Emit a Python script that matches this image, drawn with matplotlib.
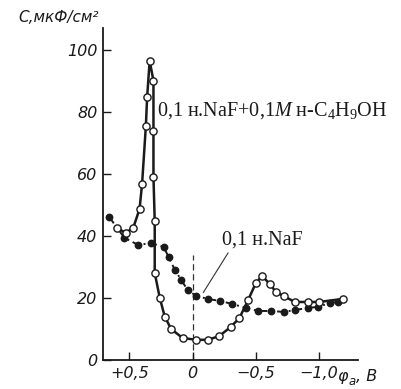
import matplotlib
matplotlib.use("Agg")
import matplotlib.pyplot as plt

plt.rcParams["mathtext.fontset"] = "custom"
plt.rcParams["mathtext.rm"] = "Liberation Serif"
plt.rcParams["mathtext.it"] = "Liberation Serif:italic"

# Potential (V) and capacitance (µF/cm²) for 0.1 N NaF + 0.1 M n-C4H9OH
phi_bu = [0.60, 0.53, 0.47, 0.42, 0.40, 0.37, 0.36, 0.34, 0.31, 0.31, 0.31, 0.30,
          0.30, 0.26, 0.22, 0.17, 0.08, -0.03, -0.12, -0.21, -0.30, -0.37, -0.44,
          -0.50, -0.55, -0.61, -0.66, -0.72, -0.81, -0.91, -1.00, -1.19]
cap_bu = [42.6, 41.0, 42.6, 48.7, 56.8, 75.5, 84.8, 96.5, 90.0, 73.9, 59.0, 44.8,
          28.1, 20.0, 13.9, 10.0, 7.1, 6.5, 6.5, 7.7, 10.6, 13.5, 19.4,
          24.8, 27.1, 24.5, 21.9, 20.6, 18.7, 18.7, 18.7, 19.7]

# Potential (V) and capacitance (µF/cm²) for 0.1 N NaF
phi_naf = [0.66, 0.54, 0.43, 0.33, 0.23, 0.19, 0.14, 0.09, 0.04, -0.03, -0.12,
           -0.22, -0.31, -0.42, -0.52, -0.62, -0.72, -0.81, -0.91, -0.99, -1.09, -1.15]
cap_naf = [46.1, 39.4, 37.1, 37.7, 36.5, 33.2, 29.0, 25.8, 22.6, 20.6, 19.7,
           19.0, 18.1, 16.8, 15.8, 15.8, 15.5, 16.1, 16.8, 17.1, 18.4, 18.7]

x_ticks = [0.5, 0.0, -0.5, -1.0]
x_tick_labels = ["+0,5", "0", "\u22120,5", "\u22121,0"]
y_ticks = [0, 20, 40, 60, 80, 100]
y_tick_labels = ["0", "20", "40", "60", "80", "100"]

label_bu = "0,1 н.NaF+0,1$\\mathit{M}$ н-C$_4$H$_9$OH"
label_naf = "0,1 н.NaF"

tick_font = dict(family=["Liberation Sans Narrow", "DejaVu Sans"], style="italic", size=11.5)
title_font = dict(family=["Liberation Sans Narrow", "DejaVu Sans"], style="italic", size=11)
serif_font = dict(family=["Liberation Serif", "DejaVu Serif"], size=14.5)

fig = plt.figure(figsize=(4.02, 3.89), dpi=100)
ax = fig.add_axes([0.256, 0.0746, 0.635, 0.853])

ax.plot(phi_naf, cap_naf, color="#1a1a1a", lw=1.4, ls=(0, (4, 2, 1, 2)),
        marker="o", ms=4.6, mfc="#1a1a1a", mec="#1a1a1a", zorder=2)
ax.plot(phi_bu, cap_bu, color="#1a1a1a", lw=1.8, ls="-",
        marker="o", ms=5.2, mfc="white", mec="#1a1a1a", mew=1.0, zorder=3)

# vertical marker at zero potential
ax.plot([0, 0], [0, 34], color="#333333", lw=0.9, ls=(0, (5, 3)), zorder=1)

ax.set_xlim(0.71, -1.31)
ax.set_ylim(0, 107)

for s in ("top", "right"):
    ax.spines[s].set_visible(False)
for s in ("left", "bottom"):
    ax.spines[s].set_linewidth(1.3)
    ax.spines[s].set_color("#1a1a1a")

ax.set_xticks(x_ticks)
ax.set_xticklabels(x_tick_labels, **tick_font)
ax.set_yticks(y_ticks)
ax.set_yticklabels(y_tick_labels, **tick_font)
ax.tick_params(direction="in", length=6, width=1.0, colors="#1a1a1a", pad=4)

# curve labels
ax.text(0.28, 80.5, label_bu, ha="left", va="center", color="#1a1a1a", **serif_font)
ax.text(-0.23, 38.8, label_naf, ha="left", va="center", color="#1a1a1a", **serif_font)
ax.plot([-0.28, -0.085], [34.5, 21.8], color="#333333", lw=0.8)

# axis titles
fig.text(0.245, 0.955, "C,мкФ/см\u00b2", ha="right", va="center", color="#1a1a1a", **title_font)
fig.text(0.84, 0.032, "φ", ha="left", va="center", color="#1a1a1a", **tick_font)
fig.text(0.866, 0.018, "a", ha="left", va="center", color="#1a1a1a",
         family=["Liberation Sans Narrow", "DejaVu Sans"], style="italic", size=8.5)
fig.text(0.886, 0.032, ", В", ha="left", va="center", color="#1a1a1a", **tick_font)

fig.savefig("out.png", dpi=100)
